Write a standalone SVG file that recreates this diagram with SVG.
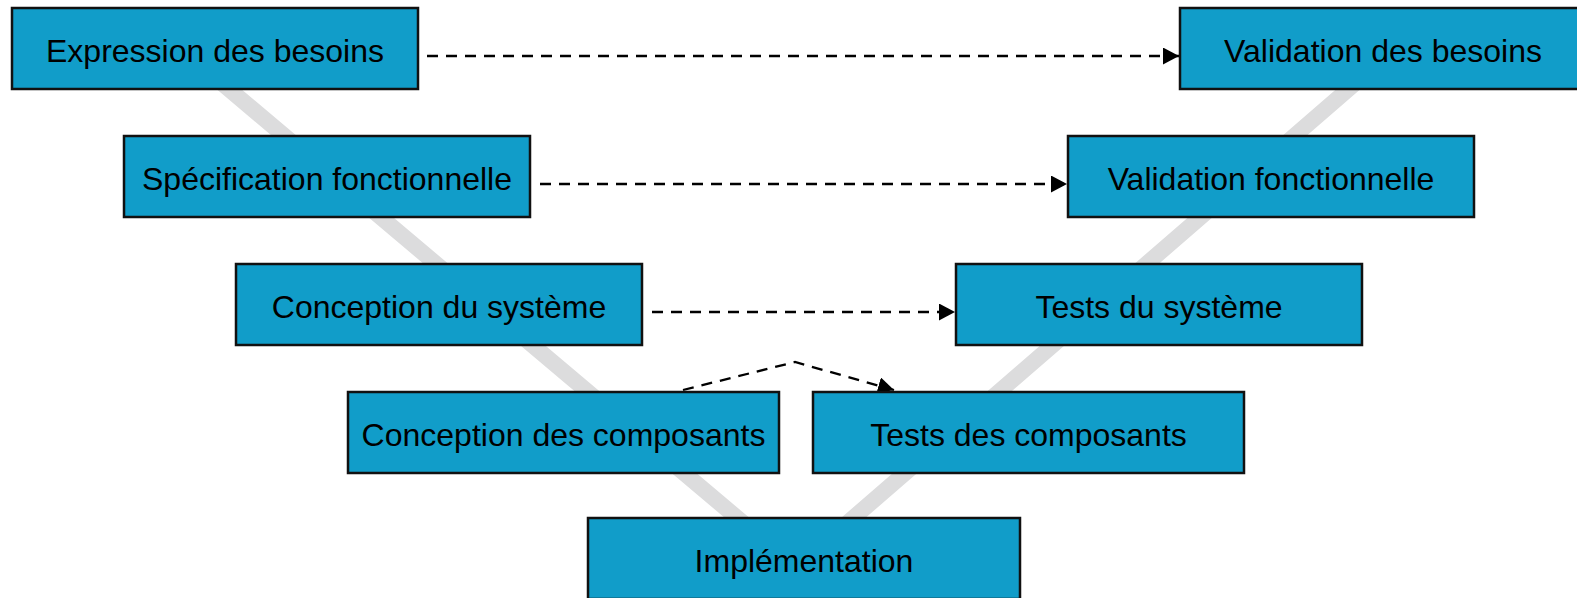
<svg xmlns="http://www.w3.org/2000/svg" width="1577" height="598" viewBox="0 0 1577 598">
  <style>
    .box { fill: #119dc9; stroke: #111111; stroke-width: 2.5; }
    .lbl { font-family: "Liberation Sans", Arial, sans-serif; font-size: 32px; fill: #000000; text-anchor: middle; }
    .dash { fill: none; stroke: #000000; stroke-width: 2.3; stroke-dasharray: 11 8; marker-end: url(#arrow); }
    .vband { fill: none; stroke: #dcdcdd; stroke-width: 16; stroke-linejoin: miter; }
  </style>
  <defs>
    <marker id="arrow" markerUnits="userSpaceOnUse" markerWidth="17" markerHeight="17" refX="16" refY="8.5" orient="auto">
      <path d="M0,0 L16,8.5 L0,17 Z" fill="#000000"/>
    </marker>
  </defs>
  <rect width="1577" height="598" fill="#ffffff"/>
  <g id="v-shape">
    <polyline class="vband" points="194.4,60 796,567.5 1382,60"/>
  </g>
  <g id="connectors">
    <path class="dash" d="M427,56 L1179,56"/>
    <path class="dash" d="M540,184 L1067,184"/>
    <path class="dash" d="M652,312 L955,312"/>
    <path class="dash" d="M683,390 L795,362 L894,390"/>
  </g>
  <g id="expression-besoins">
    <rect class="box" x="12" y="8" width="406" height="81"/>
    <text class="lbl" x="215" y="62">Expression des besoins</text>
  </g>
  <g id="validation-besoins">
    <rect class="box" x="1180" y="8" width="406" height="81"/>
    <text class="lbl" x="1383" y="62">Validation des besoins</text>
  </g>
  <g id="specification-fonctionnelle">
    <rect class="box" x="124" y="136" width="406" height="81"/>
    <text class="lbl" x="327" y="190">Spécification fonctionnelle</text>
  </g>
  <g id="validation-fonctionnelle">
    <rect class="box" x="1068" y="136" width="406" height="81"/>
    <text class="lbl" x="1271" y="190">Validation fonctionnelle</text>
  </g>
  <g id="conception-systeme">
    <rect class="box" x="236" y="264" width="406" height="81"/>
    <text class="lbl" x="439" y="318">Conception du système</text>
  </g>
  <g id="tests-systeme">
    <rect class="box" x="956" y="264" width="406" height="81"/>
    <text class="lbl" x="1159" y="318">Tests du système</text>
  </g>
  <g id="conception-composants">
    <rect class="box" x="348" y="392" width="431" height="81"/>
    <text class="lbl" x="563.5" y="446">Conception des composants</text>
  </g>
  <g id="tests-composants">
    <rect class="box" x="813" y="392" width="431" height="81"/>
    <text class="lbl" x="1028.5" y="446">Tests des composants</text>
  </g>
  <g id="implementation">
    <rect class="box" x="588" y="518" width="432" height="81"/>
    <text class="lbl" x="804" y="572">Implémentation</text>
  </g>
</svg>
